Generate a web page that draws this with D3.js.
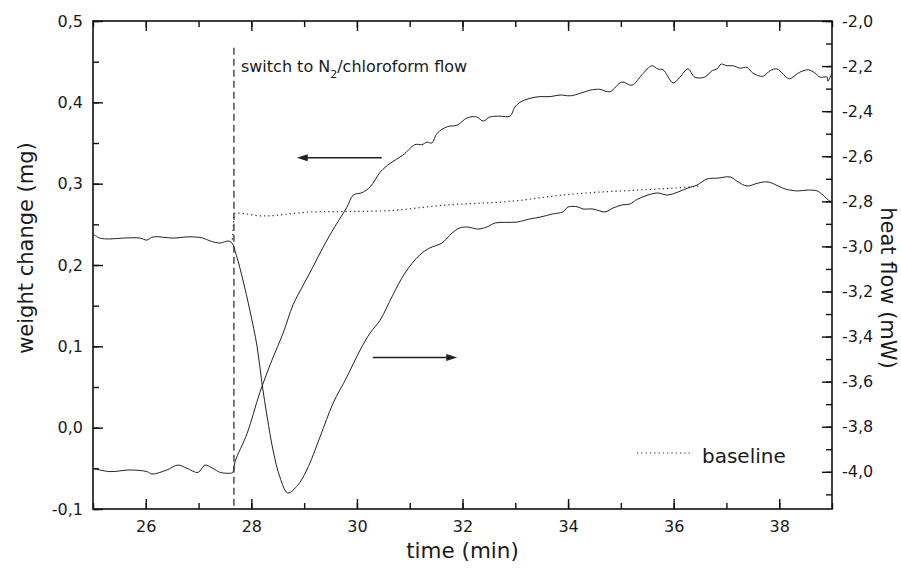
<!DOCTYPE html>
<html>
<head>
<meta charset="utf-8">
<script src="https://cdn.jsdelivr.net/npm/d3@7"></script>
<style>
  html, body { margin: 0; padding: 0; background: #fff; }
  svg { display: block; }
  text { font-family: "DejaVu Sans", sans-serif; fill: #1a1a1a; }
</style>
</head>
<body>
<div id="chart"></div>
<script>
// ---------------- data ----------------
const weightTime = [25.00,25.32,25.70,26.02,26.12,26.40,26.61,26.78,26.99,27.12,27.27,27.41,27.60,27.65,27.69,27.92,28.16,28.39,28.60,28.79,28.98,29.17,29.36,29.58,29.81,29.93,30.10,30.25,30.44,30.63,30.87,31.10,31.23,31.33,31.42,31.52,31.71,31.90,32.09,32.27,32.39,32.52,32.71,32.90,32.99,33.09,33.28,33.47,33.66,33.85,34.04,34.23,34.42,34.60,34.79,35.02,35.21,35.40,35.59,35.70,35.80,35.99,36.12,36.27,36.40,36.59,36.73,36.82,36.90,37.01,37.12,37.26,37.39,37.50,37.69,37.83,37.96,38.15,38.20,38.39,38.55,38.68,38.77,38.91,38.92,39.00];
const weightValue = [-0.050,-0.054,-0.052,-0.054,-0.057,-0.052,-0.046,-0.050,-0.055,-0.046,-0.050,-0.055,-0.056,-0.055,-0.042,-0.007,0.043,0.083,0.116,0.151,0.175,0.198,0.222,0.247,0.271,0.286,0.289,0.296,0.314,0.325,0.335,0.348,0.348,0.351,0.350,0.362,0.370,0.372,0.381,0.382,0.377,0.382,0.383,0.383,0.394,0.400,0.405,0.407,0.407,0.409,0.408,0.411,0.415,0.416,0.413,0.425,0.421,0.434,0.445,0.441,0.440,0.424,0.431,0.441,0.431,0.431,0.439,0.441,0.447,0.445,0.445,0.442,0.443,0.436,0.432,0.439,0.441,0.430,0.429,0.437,0.440,0.436,0.431,0.431,0.426,0.436];

const heatTime = [25.00,25.13,25.32,25.57,25.89,26.02,26.14,26.52,26.78,26.93,27.08,27.22,27.41,27.56,27.63,27.73,27.84,27.97,28.11,28.20,28.30,28.41,28.54,28.69,28.88,29.05,29.30,29.55,29.81,30.06,30.25,30.44,30.68,30.91,31.19,31.38,31.61,31.80,31.95,32.10,32.29,32.46,32.62,33.03,33.28,33.47,33.71,33.90,34.00,34.19,34.28,34.47,34.70,34.85,35.02,35.17,35.32,35.68,35.89,36.27,36.44,36.63,36.84,37.07,37.22,37.39,37.60,37.79,37.98,38.11,38.34,38.55,38.72,38.83,38.96,39.00];
const heatValue = [-2.945,-2.963,-2.967,-2.963,-2.963,-2.972,-2.958,-2.963,-2.958,-2.958,-2.963,-2.976,-2.985,-2.976,-2.985,-3.051,-3.149,-3.282,-3.446,-3.606,-3.757,-3.903,-4.023,-4.094,-4.059,-3.992,-3.846,-3.695,-3.579,-3.460,-3.384,-3.327,-3.216,-3.118,-3.038,-3.007,-2.985,-2.941,-2.918,-2.914,-2.923,-2.914,-2.896,-2.892,-2.878,-2.870,-2.856,-2.847,-2.825,-2.825,-2.834,-2.834,-2.847,-2.830,-2.816,-2.812,-2.790,-2.763,-2.772,-2.741,-2.728,-2.701,-2.697,-2.692,-2.714,-2.732,-2.719,-2.714,-2.732,-2.745,-2.754,-2.750,-2.754,-2.772,-2.799,-2.799];

const baselineTime = [27.64,27.69,27.73,28.22,29.17,30.44,31.71,32.96,33.90,34.60,35.36,36.31,36.50];
const baselineValue = [-2.970,-2.852,-2.852,-2.865,-2.847,-2.843,-2.816,-2.799,-2.772,-2.759,-2.750,-2.736,-2.732];

const xMajorTicks = [26,28,30,32,34,36,38];
const xMinorTicks = [25,26,27,28,29,30,31,32,33,34,35,36,37,38,39];
const leftMajorTicks = [-0.1,0.0,0.1,0.2,0.3,0.4,0.5];
const leftMinorTicks = [-0.1,-0.05,0.0,0.05,0.1,0.15,0.2,0.25,0.3,0.35,0.4,0.45,0.5];
const rightMajorTicks = [-4.0,-3.8,-3.6,-3.4,-3.2,-3.0,-2.8,-2.6,-2.4,-2.2,-2.0];
const rightMinorTicks = [-4.1,-4.0,-3.9,-3.8,-3.7,-3.6,-3.5,-3.4,-3.3,-3.2,-3.1,-3.0,-2.9,-2.8,-2.7,-2.6,-2.5,-2.4,-2.3,-2.2,-2.1,-2.0];

const switchTime = 27.67;
const switchTop = 0.467;
const leftArrow = {from: 30.47, to: 28.86, value: 0.332};   // weight axis
const rightArrow = {from: 30.30, to: 31.90, value: -3.493}; // heat-flow axis

// ---------------- layout ----------------
const W = 901, H = 579;
const m = {left: 93, top: 21, right: 69, bottom: 70};
const iw = W - m.left - m.right, ih = H - m.top - m.bottom;

const svg = d3.select("#chart").append("svg").attr("width", W).attr("height", H);
const g = svg.append("g").attr("transform", `translate(${m.left},${m.top})`);

const x = d3.scaleLinear().domain([25, 39]).range([0, iw]);
const yL = d3.scaleLinear().domain([-0.1, 0.5]).range([ih, 0]);
const yR = d3.scaleLinear().domain([-4.165, -2.0]).range([ih, 0]);

const fmt = d => d3.format(".1f")(d).replace(".", ",").replace("\u2212", "-");

// axes
function styleAxis(sel, fs) {
  sel.select(".domain").remove();
  sel.selectAll(".tick line").attr("stroke", "#111").attr("stroke-width", 1.4);
  sel.selectAll(".tick text").style("font-size", fs + "px").attr("fill", "#1a1a1a");
}
g.append("g").attr("transform", `translate(0,${ih})`)
  .call(d3.axisBottom(x).tickValues(xMajorTicks).tickSizeInner(-10).tickSizeOuter(0).tickPadding(12).tickFormat(d3.format("d")))
  .call(s => styleAxis(s, 16));
g.append("g").attr("transform", `translate(0,${ih})`)
  .call(d3.axisBottom(x).tickValues(xMinorTicks).tickSizeInner(-6).tickSizeOuter(0).tickFormat(""))
  .call(s => styleAxis(s, 16));
g.append("g")
  .call(d3.axisTop(x).tickValues(xMajorTicks).tickSizeInner(-10).tickSizeOuter(0).tickFormat(""))
  .call(s => styleAxis(s, 16));
g.append("g")
  .call(d3.axisTop(x).tickValues(xMinorTicks).tickSizeInner(-6).tickSizeOuter(0).tickFormat(""))
  .call(s => styleAxis(s, 16));

g.append("g")
  .call(d3.axisLeft(yL).tickValues(leftMajorTicks).tickSizeInner(-10).tickSizeOuter(0).tickPadding(10).tickFormat(fmt))
  .call(s => styleAxis(s, 16));
g.append("g")
  .call(d3.axisLeft(yL).tickValues(leftMinorTicks).tickSizeInner(-6).tickSizeOuter(0).tickFormat(""))
  .call(s => styleAxis(s, 16));

g.append("g").attr("transform", `translate(${iw},0)`)
  .call(d3.axisRight(yR).tickValues(rightMajorTicks).tickSizeInner(-10).tickSizeOuter(0).tickPadding(10).tickFormat(fmt))
  .call(s => styleAxis(s, 16));
g.append("g").attr("transform", `translate(${iw},0)`)
  .call(d3.axisRight(yR).tickValues(rightMinorTicks).tickSizeInner(-6).tickSizeOuter(0).tickFormat(""))
  .call(s => styleAxis(s, 16));

// frame
g.append("rect").attr("x", 0).attr("y", 0).attr("width", iw).attr("height", ih)
  .attr("fill", "none").attr("stroke", "#111").attr("stroke-width", 1.6);

// switch line
g.append("line")
  .attr("x1", x(switchTime)).attr("x2", x(switchTime))
  .attr("y1", yL(switchTop)).attr("y2", ih)
  .attr("stroke", "#222").attr("stroke-width", 1.2).attr("stroke-dasharray", "7,4");

// curves
const weightData = weightTime.map((t, i) => [t, weightValue[i]]);
const heatData = heatTime.map((t, i) => [t, heatValue[i]]);
const baseData = baselineTime.map((t, i) => [t, baselineValue[i]]);

g.append("path").datum(baseData)
  .attr("fill", "none").attr("stroke", "#333").attr("stroke-width", 1.2).attr("stroke-dasharray", "1.3,3")
  .attr("d", d3.line().curve(d3.curveMonotoneX).x(d => x(d[0])).y(d => yR(d[1])));
g.append("path").datum(weightData)
  .attr("fill", "none").attr("stroke", "#222").attr("stroke-width", 1)
  .attr("d", d3.line().curve(d3.curveCatmullRom.alpha(0.5)).x(d => x(d[0])).y(d => yL(d[1])));
g.append("path").datum(heatData)
  .attr("fill", "none").attr("stroke", "#222").attr("stroke-width", 1)
  .attr("d", d3.line().curve(d3.curveCatmullRom.alpha(0.5)).x(d => x(d[0])).y(d => yR(d[1])));

// arrows
function arrow(x1, x2, y) {
  const dir = Math.sign(x2 - x1);
  g.append("line").attr("x1", x1).attr("x2", x2 - dir * 8).attr("y1", y).attr("y2", y)
    .attr("stroke", "#222").attr("stroke-width", 1.5);
  g.append("path")
    .attr("d", `M${x2},${y} L${x2 - dir * 11},${y - 3.5} L${x2 - dir * 11},${y + 3.5} Z`)
    .attr("fill", "#222");
}
arrow(x(leftArrow.from), x(leftArrow.to), yL(leftArrow.value));
arrow(x(rightArrow.from), x(rightArrow.to), yR(rightArrow.value));

// annotation
const ann = g.append("text").attr("x", x(switchTime) + 7).attr("y", 51).style("font-size", "16px");
ann.append("tspan").text("switch to N");
ann.append("tspan").attr("dy", 6).style("font-size", "11px").text("2");
ann.append("tspan").attr("dy", -6).text("/chloroform flow");

// legend
g.append("line").attr("x1", 544).attr("x2", 600).attr("y1", 432).attr("y2", 432)
  .attr("stroke", "#333").attr("stroke-width", 1.2).attr("stroke-dasharray", "1.3,3");
g.append("text").attr("x", 609).attr("y", 442).style("font-size", "20px").text("baseline");

// axis titles
svg.append("text").attr("x", m.left + iw / 2).attr("y", 558).attr("text-anchor", "middle")
  .style("font-size", "21.5px").text("time (min)");
svg.append("text").attr("transform", "translate(33,248) rotate(-90)").attr("text-anchor", "middle")
  .style("font-size", "21px").text("weight change (mg)");
svg.append("text").attr("transform", "translate(881,288) rotate(90)").attr("text-anchor", "middle")
  .style("font-size", "21px").text("heat flow (mW)");
</script>
</body>
</html>
